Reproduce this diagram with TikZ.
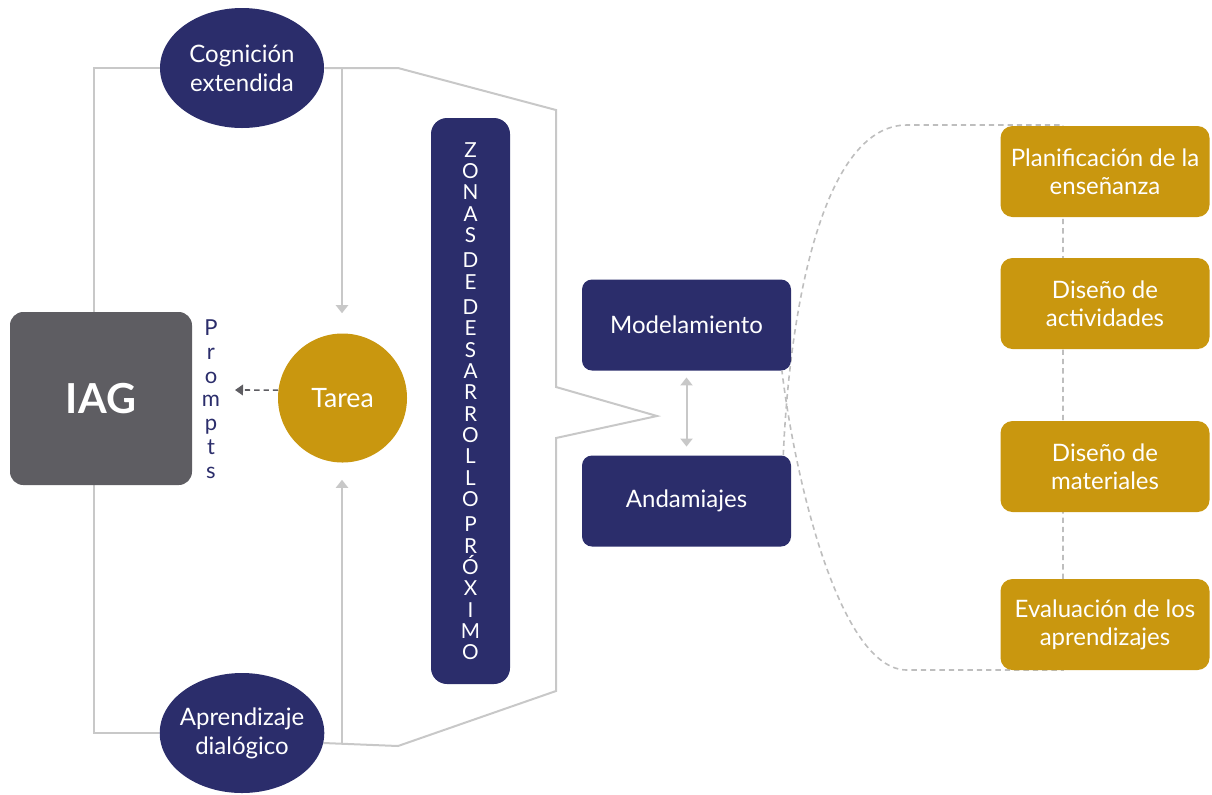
\documentclass[tikz,border=0pt]{standalone}
\usepackage{fontspec}
\setmainfont{Lato}
\usetikzlibrary{shapes.geometric,arrows.meta,backgrounds}

\definecolor{navy}{HTML}{2B2D6B}
\definecolor{gold}{HTML}{C9970F}
\definecolor{iaggray}{HTML}{5E5D62}
\definecolor{linegray}{HTML}{C8C8C8}
\definecolor{dashgray}{HTML}{BEBEBE}

\tikzset{
  navyellipse/.style={ellipse, fill=navy, text=white, minimum width=123pt, minimum height=90pt,
    inner xsep=-3pt, inner ysep=0pt, align=center, font=\fontsize{18}{21.75}\selectfont},
  navybox/.style={rectangle, rounded corners=7.5pt, fill=navy, text=white, minimum width=156.75pt,
    minimum height=68.25pt, font=\fontsize{18}{21.75}\selectfont},
  goldbox/.style={rectangle, rounded corners=9pt, fill=gold, text=white, minimum width=156.75pt,
    minimum height=68.25pt, inner sep=2pt, align=center, font=\fontsize{18}{21}\selectfont},
  graylink/.style={draw=linegray, line width=1.5pt},
  grayarrow/.style={graylink, -{Triangle[width=9pt,length=6pt]}},
  dasharrow/.style={draw=iaggray, line width=1.2pt, dash pattern=on 4pt off 3pt,
    -{Triangle[width=8pt,length=6pt]}},
  dashlink/.style={draw=dashgray, line width=1.2pt, dash pattern=on 4pt off 3pt},
}

\begin{document}
\begin{tikzpicture}[x=0.75pt,y=-0.75pt]
\useasboundingbox (0,0) rectangle (1212,794);

% Left side
\node[rectangle, rounded corners=10pt, fill=iaggray, text=white, minimum width=136.5pt,
  minimum height=129.75pt, font=\fontsize{31}{36}\selectfont\bfseries] (iag) at (101,398.5) {IAG};
\node[text=navy, align=center, font=\fontsize{16.5}{17.8}\selectfont] (prompts) at (211,399)
  {P\\r\\o\\m\\p\\t\\s};
\node[circle, fill=gold, text=white, minimum size=96.75pt, inner sep=0pt,
  font=\fontsize{20}{24}\selectfont] (tarea) at (342.5,398) {Tarea};
\node[navyellipse] (cog) at (242,68) {Cognición\\extendida};
\node[navyellipse] (apr) at (242,733) {Aprendizaje\\dialógico};

% Zona de desarrollo
\node[rectangle, rounded corners=12pt, fill=navy, text=white, minimum width=59.25pt,
  minimum height=424.5pt, align=center, font=\fontsize{15.5}{16}\selectfont] (zdp) at (470.5,401)
  {Z\\O\\N\\A\\S\\[3pt]D\\E\\[3pt]D\\E\\S\\A\\R\\R\\O\\L\\L\\O\\[3pt]P\\R\\Ó\\X\\I\\M\\O};

% Middle
\node[navybox] (mod) at (686.5,325) {Modelamiento};
\node[navybox] (and) at (686.5,501) {Andamiajes};

% Right
\node[goldbox] (plan) at (1105,171.5) {Planificación de la\\enseñanza};
\node[goldbox] (act) at (1105,303.5) {Diseño de\\actividades};
\node[goldbox] (mat) at (1105,466.5) {Diseño de\\materiales};
\node[goldbox] (eva) at (1105,624.5) {Evaluación de los\\aprendizajes};

\coordinate (tsplit) at (342,68);
\coordinate (bsplit) at (342,744);
\coordinate (ptip) at (235,390);
\coordinate (dtop) at (1063,125);
\coordinate (dbot) at (1063,670);

\begin{scope}[on background layer]
% Brackets
\draw[graylink] (cog.west) -| ([xshift=-5.25pt]iag.north);
\draw[graylink] ([xshift=-5.25pt]iag.south) |- (apr.west);
\draw[graylink] (cog.east) -- (398,68) -- (556,110) -- (556,387) -- (657,416) -- (556,438)
  -- (556,691) -- (398,746) -- (apr.353);
\draw[grayarrow, shorten >=15pt] (tsplit) -- (tsplit |- tarea.north);
\draw[grayarrow, shorten >=12.75pt] (bsplit) -- (bsplit |- tarea.south);
\draw[dasharrow] (tarea.173) -- (ptip);
\draw[graylink, {Triangle[width=9pt,length=6pt]}-{Triangle[width=9pt,length=6pt]},
  shorten <=5pt, shorten >=6.5pt] (mod.south) -- (and.north);

% Dashed brace
\draw[dashlink] ([xshift=-6pt]and.north east) .. controls (790,300) and (825,125) .. (907,125)
  -- (dtop) -- (dbot) -- (907,670) .. controls (840,670) and (795,480) .. ([xshift=-7pt]mod.south east);
\end{scope}
\end{tikzpicture}
\end{document}
